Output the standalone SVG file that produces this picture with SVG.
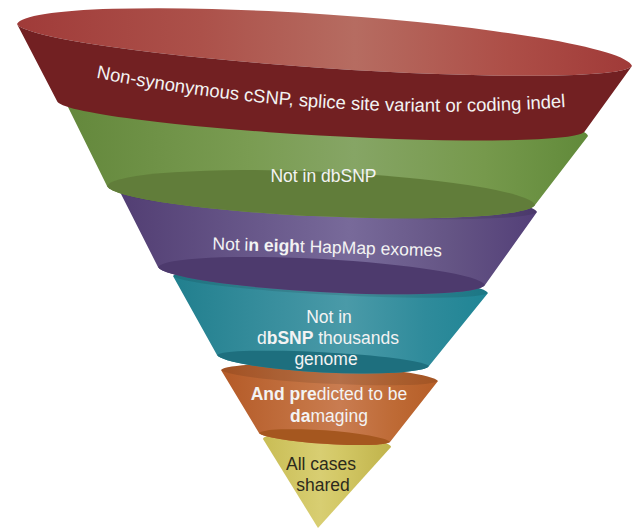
<svg xmlns="http://www.w3.org/2000/svg" width="632" height="530" viewBox="0 0 632 530">
  <defs>
    <style>
      .lbl { font-family: "Liberation Sans", Arial, sans-serif; font-size: 17.5px; fill: #f3f3f3; text-anchor: middle; }
      .dark { fill: #2c2a1c; }
      .b { font-weight: bold; }
      .rim { fill: #000; opacity: 0.1; }
    </style>
    <!-- horizontal shading for each band of the funnel -->
    <linearGradient id="gRedIn" x1="0" y1="0" x2="1" y2="0">
      <stop offset="0" stop-color="#a03b39"/>
      <stop offset="0.3" stop-color="#ac514a"/>
      <stop offset="0.55" stop-color="#b66c61"/>
      <stop offset="0.8" stop-color="#ad4e47"/>
      <stop offset="1" stop-color="#a03a38"/>
    </linearGradient>
    <linearGradient id="gGreen" x1="0" y1="0" x2="1" y2="0">
      <stop offset="0" stop-color="#64883c"/>
      <stop offset="0.35" stop-color="#7a9c52"/>
      <stop offset="0.55" stop-color="#86a565"/>
      <stop offset="0.8" stop-color="#76994c"/>
      <stop offset="1" stop-color="#618a3a"/>
    </linearGradient>
    <linearGradient id="gPurple" x1="0" y1="0" x2="1" y2="0">
      <stop offset="0" stop-color="#523e73"/>
      <stop offset="0.35" stop-color="#6a5a8c"/>
      <stop offset="0.55" stop-color="#786a9a"/>
      <stop offset="0.8" stop-color="#645484"/>
      <stop offset="1" stop-color="#533f78"/>
    </linearGradient>
    <linearGradient id="gTeal" x1="0" y1="0" x2="1" y2="0">
      <stop offset="0" stop-color="#217f8e"/>
      <stop offset="0.35" stop-color="#3b909f"/>
      <stop offset="0.55" stop-color="#4a9aa8"/>
      <stop offset="0.8" stop-color="#2f8b9b"/>
      <stop offset="1" stop-color="#1f8595"/>
    </linearGradient>
    <linearGradient id="gOrange" x1="0" y1="0" x2="1" y2="0">
      <stop offset="0" stop-color="#b45a27"/>
      <stop offset="0.4" stop-color="#c47444"/>
      <stop offset="0.55" stop-color="#c97c51"/>
      <stop offset="0.8" stop-color="#be6a35"/>
      <stop offset="1" stop-color="#b65e28"/>
    </linearGradient>
    <linearGradient id="gYellow" x1="0" y1="0" x2="1" y2="0">
      <stop offset="0" stop-color="#c9bd55"/>
      <stop offset="0.45" stop-color="#d8ce72"/>
      <stop offset="0.6" stop-color="#d3c866"/>
      <stop offset="1" stop-color="#c0b34b"/>
    </linearGradient>
    <path id="redBase" d="M82,75 Q330,126 580,106"/>
  </defs>

  <!-- bands are painted from the tip upward so each one overlaps the next -->
  <g id="layer-6">
    <path d="M263,439 A64 9 3.6 0 1 391,447 L318,528 Z" fill="url(#gYellow)"/>
    <text class="lbl dark" x="321" y="470">All cases</text>
    <text class="lbl dark" x="323" y="491">shared</text>
  </g>

  <g id="layer-5">
    <path d="M221,370 A109 11 2.9 0 1 438,381 L390,442 A66 7 3.9 0 1 259,433 Z" fill="url(#gOrange)"/>
    <path class="rim" d="M221,370 A109 11 2.9 0 1 438,381 A109 9 2.9 0 1 221,370 Z"/>
    <path d="M259,433 A66 8 3.9 0 1 390,442 A66 7 3.9 0 1 259,433 Z" fill="#a5571f"/>
    <text class="lbl" x="329" y="400"><tspan class="b">And pre</tspan>dicted to be</text>
    <text class="lbl" x="329" y="422"><tspan class="b">da</tspan>maging</text>
  </g>

  <g id="layer-4">
    <path d="M173,276 A158 16 3.1 0 1 488,293 L429,366 A106.5 13 3 0 1 217,355 Z" fill="url(#gTeal)"/>
    <path class="rim" d="M173,276 A158 16 3.1 0 1 488,293 A158 11 3.1 0 1 173,276 Z"/>
    <path d="M217,355 A106.5 9 3 0 1 429,366 A106.5 13 3 0 1 217,355 Z" fill="#1e6f7e"/>
    <text class="lbl" x="329" y="323">Not in</text>
    <text class="lbl" x="328" y="344">d<tspan class="b">bSNP</tspan> thousands</text>
    <text class="lbl" x="326" y="365">genome</text>
  </g>

  <g id="layer-3">
    <path d="M120,192 A209 20 2.75 0 1 537,212 L485,285 A164 17 3.15 0 1 158,267 Z" fill="url(#gPurple)"/>
    <path class="rim" d="M120,192 A209 20 2.75 0 1 537,212 A209 15 2.75 0 1 120,192 Z"/>
    <path d="M158,267 A164 18 3.15 0 1 485,285 A164 17 3.15 0 1 158,267 Z" fill="#4d3a6d"/>
    <text class="lbl" x="327" y="253" transform="rotate(1.7 327 253)">Not i<tspan class="b">n eigh</tspan>t HapMap exomes</text>
  </g>

  <g id="layer-2">
    <path d="M68,107 A260.5 24 3.2 0 1 588,136 L535,205 A214.5 22 2.54 0 1 107,186 Z" fill="url(#gGreen)"/>
    <path d="M107,186 A214.5 25 2.54 0 1 535,205 A214.5 22 2.54 0 1 107,186 Z" fill="#617d3a"/>
    <text class="lbl" x="323.5" y="182">Not in dbSNP</text>
  </g>

  <g id="layer-1">
    <path d="M17,24 A308.5 32 3.9 0 1 632,66 A308.5 24 3.9 0 1 17,24 Z" fill="url(#gRedIn)"/>
    <path d="M17,24 A308.5 24 3.9 0 0 632,66 L585,131 A264.5 20 3.25 0 1 57,101 Z" fill="#722022"/>
    <text class="lbl" style="font-size:18.5px"><textPath href="#redBase" startOffset="50%">Non-synonymous cSNP, splice site variant or coding indel</textPath></text>
  </g>

  <g id="connectors"/>
</svg>
